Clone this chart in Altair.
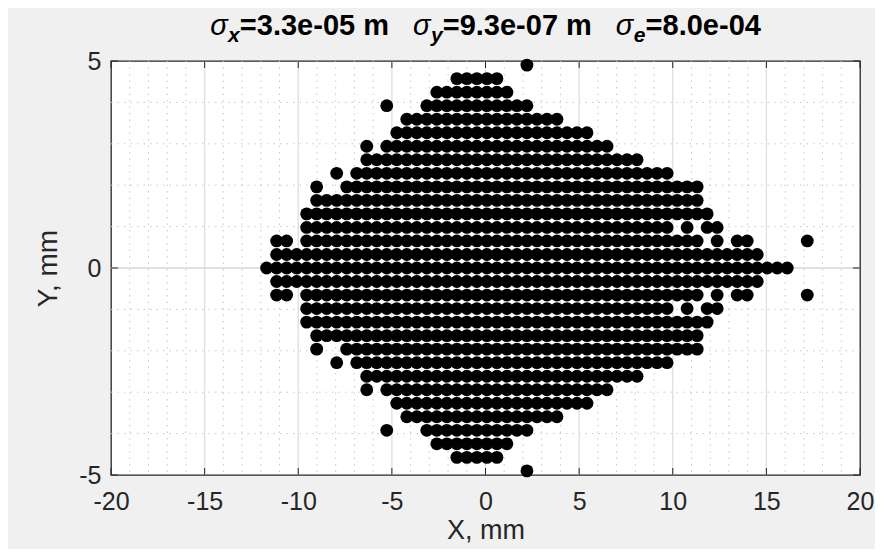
import altair as alt
import pandas as pd

# ---- particle lattice ----
X_LEFT = -11.69     # mm, x of lattice column k = 0
DX = 0.5347         # mm between lattice columns
DY = 0.3267         # mm between lattice rows

# row index j (y = j*DY) -> runs of occupied lattice columns (k_start, k_end)
ROW_RUNS = {
    15: [(26, 26)],
    14: [(19, 23)],
    13: [(17, 24)],
    12: [(12, 12), (16, 26)],
    11: [(14, 29)],
    10: [(13, 32)],
    9: [(10, 10), (12, 34)],
    8: [(10, 37)],
    7: [(7, 7), (9, 40)],
    6: [(5, 5), (8, 43)],
    5: [(5, 43)],
    4: [(4, 44)],
    3: [(4, 40), (42, 42), (44, 45)],
    2: [(1, 2), (4, 43), (45, 45), (47, 48), (54, 54)],
    1: [(1, 49)],
    0: [(0, 52)],
    -1: [(1, 49)],
    -2: [(1, 2), (4, 43), (45, 45), (47, 48), (54, 54)],
    -3: [(4, 40), (42, 42), (44, 45)],
    -4: [(4, 44)],
    -5: [(5, 43)],
    -6: [(5, 5), (8, 43)],
    -7: [(7, 7), (9, 40)],
    -8: [(10, 37)],
    -9: [(10, 10), (12, 34)],
    -10: [(13, 32)],
    -11: [(14, 29)],
    -12: [(12, 12), (16, 26)],
    -13: [(17, 24)],
    -14: [(19, 23)],
    -15: [(26, 26)],
}

X_TICKS = [-20, -15, -10, -5, 0, 5, 10, 15, 20]
Y_TICKS = [-5, 0, 5]
X_MAJOR_GRID = [-15, -10, -5, 0, 5, 10, 15]
Y_MAJOR_GRID = [0]
X_MINOR_GRID = [v for v in range(-19, 20) if v % 5 != 0]
Y_MINOR_GRID = [-4, -3, -2, -1, 1, 2, 3, 4]

TITLE_PARTS = [("σ", "x", "=3.3e-05 m"), ("σ", "y", "=9.3e-07 m"), ("σ", "e", "=8.0e-04")]

xs_, ys_ = [], []
for j, runs in ROW_RUNS.items():
    for k0, k1 in runs:
        for k in range(k0, k1 + 1):
            xs_.append(X_LEFT + k * DX)
            ys_.append(j * DY)
pts_df = pd.DataFrame({"x": xs_, "y": ys_})

W, H = 749, 414
AX = "#262626"
FONT = "Liberation Sans"
xsc = alt.Scale(domain=[-20, 20], nice=False, zero=False)
ysc = alt.Scale(domain=[-5, 5], nice=False, zero=False)


def vdf(vals):
    return pd.DataFrame({"v": vals})


x_axis = alt.Axis(values=X_TICKS, title="X, mm", grid=False, ticks=False, domain=False,
                  labelExpr="toString(datum.value)", labelFont=FONT, labelFontSize=25,
                  labelColor=AX, labelPadding=14, labelFlush=False,
                  titleFont=FONT, titleFontSize=27, titleFontWeight="normal",
                  titleColor=AX, titlePadding=3)
y_axis = alt.Axis(values=Y_TICKS, title="Y, mm", grid=False, ticks=False, domain=False,
                  labelExpr="toString(datum.value)", labelFont=FONT, labelFontSize=25,
                  labelColor=AX, labelPadding=10, labelFlush=False,
                  titleFont=FONT, titleFontSize=28, titleFontWeight="normal",
                  titleColor=AX, titlePadding=16)


def X(field):
    return alt.X(field, scale=xsc, axis=x_axis)


def Y(field):
    return alt.Y(field, scale=ysc, axis=y_axis)


minor_x = alt.Chart(vdf(X_MINOR_GRID)).mark_rule(color="#c8c8c8", strokeWidth=1, strokeDash=[1.5, 5]).encode(
    x=X("v:Q"), y=alt.value(0), y2=alt.value(H))
minor_y = alt.Chart(vdf(Y_MINOR_GRID)).mark_rule(color="#c8c8c8", strokeWidth=1, strokeDash=[1.5, 5]).encode(
    y=Y("v:Q"), x=alt.value(0), x2=alt.value(W))
major_x = alt.Chart(vdf(X_MAJOR_GRID)).mark_rule(color="#e2e2e2", strokeWidth=1.5).encode(
    x=X("v:Q"), y=alt.value(0), y2=alt.value(H))
major_y = alt.Chart(vdf(Y_MAJOR_GRID)).mark_rule(color="#d6d6d6", strokeWidth=1.5).encode(
    y=Y("v:Q"), x=alt.value(0), x2=alt.value(W))

pts = alt.Chart(pts_df).mark_circle(size=165, color="black", opacity=1).encode(
    x=X("x:Q"), y=Y("y:Q"))

TL = 7
tick_layers = [
    alt.Chart(vdf(X_TICKS)).mark_rule(color=AX, strokeWidth=1).encode(
        x=X("v:Q"), y=alt.value(H), y2=alt.value(H - TL)),
    alt.Chart(vdf(X_TICKS)).mark_rule(color=AX, strokeWidth=1).encode(
        x=X("v:Q"), y=alt.value(0), y2=alt.value(TL)),
    alt.Chart(vdf(Y_TICKS)).mark_rule(color=AX, strokeWidth=1).encode(
        y=Y("v:Q"), x=alt.value(0), x2=alt.value(TL)),
    alt.Chart(vdf(Y_TICKS)).mark_rule(color=AX, strokeWidth=1).encode(
        y=Y("v:Q"), x=alt.value(W), x2=alt.value(W - TL)),
]

# ---- title with subscripts, built from separate text pieces ----
EM_BOLD = {"=": .584, ".": .278, "-": .333, " ": .278, "m": .889, "e": .556}
TF = 29          # main title font size
SF = 21          # subscript size
GAP = 24


def bold_w(s, f):
    return sum(EM_BOLD.get(c, .556) for c in s) * f


sig_w = 0.62 * TF
pieces_w = [sig_w + 0.56 * SF + bold_w(t, TF) for _, _, t in TITLE_PARTS]
total = sum(pieces_w) + GAP * (len(TITLE_PARTS) - 1)
cx = W / 2 - total / 2
base_y = -26
title_layers = []
for (sg, sub, txt), pw in zip(TITLE_PARTS, pieces_w):
    title_layers.append(alt.Chart(vdf([0])).mark_text(
        text=sg, font=FONT, fontSize=TF, fontStyle="italic", align="left", baseline="alphabetic",
        color="black").encode(x=alt.value(cx), y=alt.value(base_y)))
    title_layers.append(alt.Chart(vdf([0])).mark_text(
        text=sub, font=FONT, fontSize=SF, fontStyle="italic", fontWeight="bold", align="left",
        baseline="alphabetic", color="black").encode(x=alt.value(cx + sig_w), y=alt.value(base_y + 7)))
    title_layers.append(alt.Chart(vdf([0])).mark_text(
        text=txt, font=FONT, fontSize=TF, fontWeight="bold", align="left", baseline="alphabetic",
        color="black").encode(x=alt.value(cx + sig_w + 0.56 * SF), y=alt.value(base_y)))
    cx += pw + GAP

chart = alt.layer(minor_x, minor_y, major_x, major_y, pts, *tick_layers, *title_layers).properties(
    width=W, height=H,
    autosize=alt.AutoSizeParams(type="none"),
    padding={"left": 103, "top": 53, "right": 15, "bottom": 74},
).configure(background="#f0f0f0").configure_view(fill="white", stroke=AX, strokeWidth=1.3)

chart.save("out.html", embed_options={"renderer": "svg", "actions": False})
